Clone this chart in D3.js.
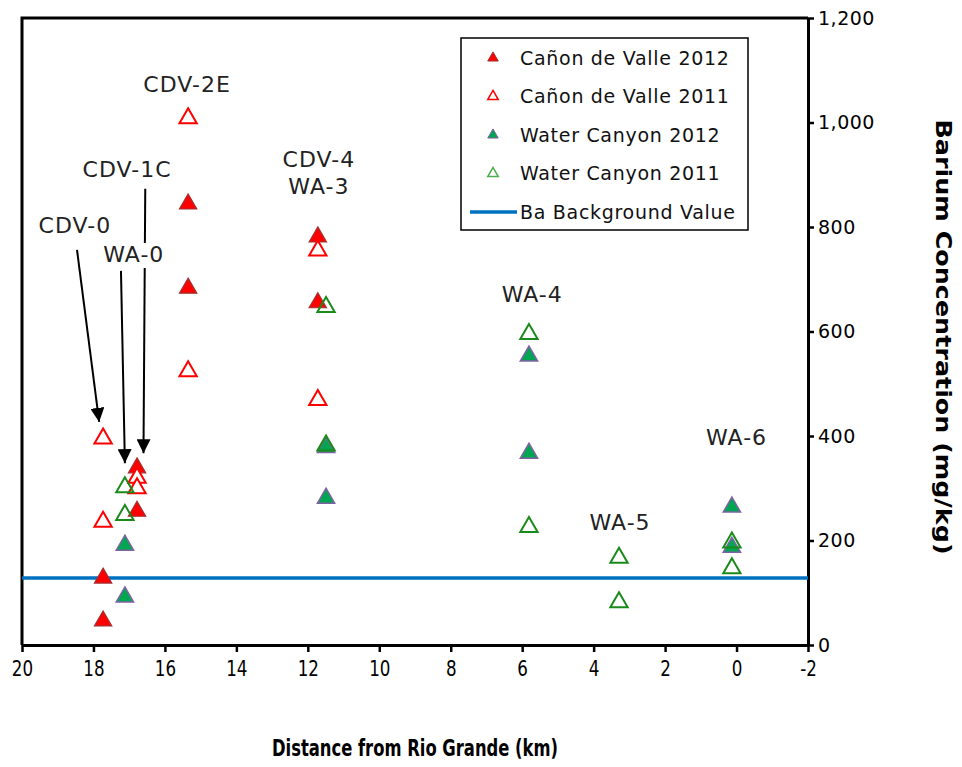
<!DOCTYPE html>
<html>
<head>
<meta charset="utf-8">
<script src="https://cdn.jsdelivr.net/npm/d3@7"></script>
<style>
  body { margin: 0; background: #fff; }
  svg { display: block; }
</style>
</head>
<body>
<div id="canvas"></div>
<script>
// distances (km from Rio Grande) and barium values (mg/kg)
const cdv2012 = [
  { km: 17.73, ba: 128 }, { km: 17.73, ba: 46 },
  { km: 16.78, ba: 339 }, { km: 16.78, ba: 256 },
  { km: 15.35, ba: 844 }, { km: 15.35, ba: 683 },
  { km: 11.72, ba: 781 }, { km: 11.72, ba: 655 }
];
const cdv2011 = [
  { km: 17.73, ba: 395 }, { km: 17.73, ba: 236 },
  { km: 16.78, ba: 320 }, { km: 16.78, ba: 300 },
  { km: 15.35, ba: 1008 }, { km: 15.35, ba: 524 },
  { km: 11.72, ba: 755 }, { km: 11.72, ba: 469 }
];
const wc2012 = [
  { km: 17.12, ba: 191 }, { km: 17.12, ba: 92 },
  { km: 11.49, ba: 378 }, { km: 11.49, ba: 281 },
  { km: 5.81, ba: 553 }, { km: 5.81, ba: 367 },
  { km: 0.13, ba: 264 }, { km: 0.13, ba: 187 }
];
const wc2011 = [
  { km: 17.12, ba: 302 }, { km: 17.12, ba: 249 },
  { km: 11.49, ba: 382 }, { km: 11.49, ba: 647 },
  { km: 5.81, ba: 595 }, { km: 5.81, ba: 226 },
  { km: 3.29, ba: 167 }, { km: 3.29, ba: 82 },
  { km: 0.13, ba: 196 }, { km: 0.13, ba: 147 }
];
const baBackground = 128;

const xTicks = [20, 18, 16, 14, 12, 10, 8, 6, 4, 2, 0, -2];
const yTicks = [0, 200, 400, 600, 800, 1000, 1200];

// station labels, placed in data units (baseline)
const labels = [
  { text: "CDV-2E", km: 15.38, ba: 1058 },
  { text: "CDV-1C", km: 17.06, ba: 896 },
  { text: "CDV-0", km: 18.52, ba: 788 },
  { text: "WA-0", km: 16.87, ba: 733, box: true },
  { text: "CDV-4", km: 11.69, ba: 915 },
  { text: "WA-3", km: 11.69, ba: 863 },
  { text: "WA-4", km: 5.72, ba: 656 },
  { text: "WA-5", km: 3.26, ba: 220 },
  { text: "WA-6", km: 0.0, ba: 383 }
];
// arrows from label to station
const arrows = [
  { x1: 18.46, y1: 756, x2: 17.84, y2: 427 },
  { x1: 17.23, y1: 716, x2: 17.12, y2: 348 },
  { x1: 16.55, y1: 873, x2: 16.6, y2: 367 }
];

const legendItems = [
  { name: "Cañon de Valle 2012", type: "cdv2012" },
  { name: "Cañon de Valle 2011", type: "cdv2011" },
  { name: "Water Canyon 2012", type: "wc2012" },
  { name: "Water Canyon 2011", type: "wc2011" },
  { name: "Ba Background Value", type: "line" }
];

const styles = {
  cdv2012: { fill: "#ff0000", stroke: "#a33030", sw: 1.2 },
  cdv2011: { fill: "#ffffff", stroke: "#ff0000", sw: 2 },
  wc2012: { fill: "#00a651", stroke: "#7f62a4", sw: 1.5 },
  wc2011: { fill: "none", stroke: "#1a8a1a", sw: 2 }
};

const margin = { top: 18, right: 154, bottom: 122, left: 22 },
    width = 962 - margin.left - margin.right,
    height = 767 - margin.top - margin.bottom;

const root = d3.select("#canvas")
    .append("svg")
    .attr("width", 962)
    .attr("height", 767);

const svg = root.append("g")
    .attr("transform", `translate(${margin.left},${margin.top})`);

const x = d3.scaleLinear().domain([20, -2]).range([0, width]);
const y = d3.scaleLinear().domain([0, 1200]).range([height, 0]);

// frame (left + top)
svg.append("path")
    .attr("d", `M0,${height}V0H${width}`)
    .attr("fill", "none")
    .attr("stroke", "#000")
    .attr("stroke-width", 3);

// bottom axis
const xAxis = svg.append("g")
    .attr("transform", `translate(0,${height})`)
    .call(d3.axisBottom(x).tickValues(xTicks).tickSize(7).tickSizeOuter(0).tickPadding(8)
        .tickFormat(d => String(d)));
// right axis
const yAxis = svg.append("g")
    .attr("transform", `translate(${width},0)`)
    .call(d3.axisRight(y).tickValues(yTicks).tickSize(6).tickSizeOuter(0).tickPadding(4)
        .tickFormat(d3.format(",")));

[xAxis, yAxis].forEach(a => {
    a.select(".domain").attr("stroke-width", 3);
    a.selectAll(".tick line").attr("stroke-width", 2.5);
});
xAxis.selectAll("text")
    .style("font-family", "'DejaVu Sans', sans-serif")
    .style("font-size", "22px")
    .attr("transform", "scale(0.76,1)")
    .attr("fill", "#000");
yAxis.selectAll("text")
    .style("font-family", "'DejaVu Sans', Verdana, sans-serif")
    .style("font-size", "19px")
    .attr("letter-spacing", "0.5px")
    .attr("fill", "#000");

// axis titles
root.append("text")
    .attr("x", 415).attr("y", 756)
    .attr("text-anchor", "middle")
    .style("font-family", "'DejaVu Sans', sans-serif")
    .style("font-weight", "bold")
    .style("font-size", "23px")
    .attr("textLength", 286)
    .attr("lengthAdjust", "spacingAndGlyphs")
    .text("Distance from Rio Grande (km)");

root.append("text")
    .attr("transform", "translate(936,337) rotate(90)")
    .attr("text-anchor", "middle")
    .style("font-family", "'DejaVu Sans', sans-serif")
    .style("font-weight", "bold")
    .style("font-size", "22px")
    .attr("textLength", 435)
    .attr("lengthAdjust", "spacingAndGlyphs")
    .text("Barium Concentration (mg/kg)");

// background line
svg.append("line")
    .attr("x1", 0).attr("x2", width)
    .attr("y1", y(baBackground)).attr("y2", y(baBackground))
    .attr("stroke", "#0070c0")
    .attr("stroke-width", 3.5);

// arrows
const defs = root.append("defs");
defs.append("marker")
    .attr("id", "arrowhead")
    .attr("viewBox", "0 0 10 10")
    .attr("refX", 10).attr("refY", 5)
    .attr("markerWidth", 7).attr("markerHeight", 7)
    .attr("markerUnits", "strokeWidth")
    .attr("orient", "auto")
    .append("path")
    .attr("d", "M0,0L10,5L0,10z")
    .attr("fill", "#000");

svg.append("g")
    .selectAll("line")
    .data(arrows)
    .enter()
    .append("line")
    .attr("x1", d => x(d.x1)).attr("y1", d => y(d.y1))
    .attr("x2", d => x(d.x2)).attr("y2", d => y(d.y2))
    .attr("stroke", "#000")
    .attr("stroke-width", 2)
    .attr("marker-end", "url(#arrowhead)");

// station labels
const lab = svg.append("g")
    .selectAll("g")
    .data(labels)
    .enter()
    .append("g")
    .attr("transform", d => `translate(${x(d.km)},${y(d.ba)})`);
lab.filter(d => d.box)
    .append("rect")
    .attr("x", -32).attr("y", -19).attr("width", 64).attr("height", 25)
    .attr("fill", "#fff");
lab.append("text")
    .attr("text-anchor", "middle")
    .style("font-family", "'DejaVu Sans', Verdana, sans-serif")
    .style("font-size", "22px")
    .attr("letter-spacing", "1px")
    .attr("fill", "#222")
    .text(d => d.text);

// markers
const tri = d3.symbol().type(d3.symbolTriangle).size(130);

function drawSeries(data, key) {
    const s = styles[key];
    svg.append("g")
        .selectAll("path")
        .data(data)
        .enter()
        .append("path")
        .attr("d", tri)
        .attr("transform", d => `translate(${x(d.km)},${y(d.ba)})`)
        .attr("fill", s.fill)
        .attr("stroke", s.stroke)
        .attr("stroke-width", s.sw);
}
drawSeries(cdv2012, "cdv2012");
drawSeries(cdv2011, "cdv2011");
drawSeries(wc2012, "wc2012");
drawSeries(wc2011, "wc2011");

// legend
const legend = root.append("g").attr("transform", "translate(461,38)");
legend.append("rect")
    .attr("width", 287).attr("height", 192)
    .attr("fill", "#fff")
    .attr("stroke", "#000")
    .attr("stroke-width", 1.5);

const li = legend.selectAll("g.item")
    .data(legendItems)
    .enter()
    .append("g")
    .attr("class", "item")
    .attr("transform", (d, i) => `translate(0,${20 + i * 38.5})`);

const smallTri = d3.symbol().type(d3.symbolTriangle).size(48);
li.filter(d => d.type !== "line")
    .append("path")
    .attr("d", smallTri)
    .attr("transform", "translate(32,0)")
    .attr("fill", d => styles[d.type].fill)
    .attr("stroke", d => d.type === "wc2011" ? "#4caf50" : styles[d.type].stroke)
    .attr("stroke-width", d => d.type.endsWith("2011") ? 1.5 : 1);
li.filter(d => d.type === "line")
    .append("line")
    .attr("x1", 9).attr("x2", 56)
    .attr("stroke", "#0070c0")
    .attr("stroke-width", 3.5);
li.append("text")
    .attr("x", 59)
    .attr("dy", "0.35em")
    .style("font-family", "'DejaVu Sans', Verdana, sans-serif")
    .style("font-size", "19px")
    .attr("letter-spacing", "0.7px")
    .attr("fill", "#111")
    .text(d => d.name);
</script>
</body>
</html>
